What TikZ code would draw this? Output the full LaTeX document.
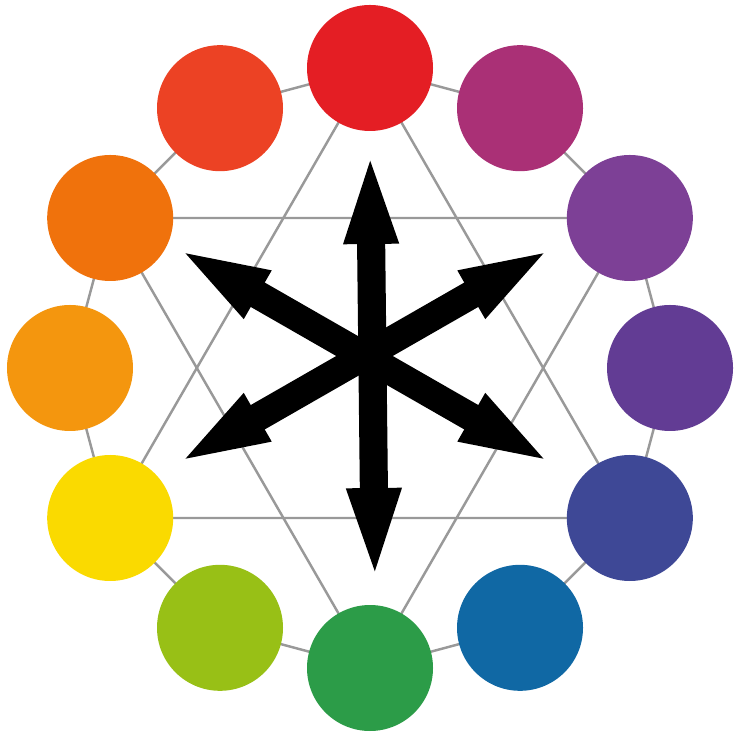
\documentclass[tikz,border=0pt]{standalone}
\usetikzlibrary{arrows.meta, backgrounds}

\definecolor{wheelRed}{RGB}{228,30,36}
\definecolor{wheelMagenta}{RGB}{170,48,118}
\definecolor{wheelPurple}{RGB}{125,64,150}
\definecolor{wheelDeepPurple}{RGB}{98,60,148}
\definecolor{wheelIndigo}{RGB}{62,72,150}
\definecolor{wheelBlue}{RGB}{16,104,164}
\definecolor{wheelGreen}{RGB}{44,156,72}
\definecolor{wheelLime}{RGB}{152,192,22}
\definecolor{wheelYellow}{RGB}{250,218,0}
\definecolor{wheelAmber}{RGB}{244,150,14}
\definecolor{wheelOrange}{RGB}{240,114,12}
\definecolor{wheelVermilion}{RGB}{236,66,36}

\tikzset{
  colordot/.style={circle, draw=none, inner sep=0pt, minimum size=1.26cm},
  guide/.style={draw=gray!80, line width=0.7pt},
  bigarrow/.style={line width=8pt, {Triangle[length=1.0cm, width=0.46cm]}-{Triangle[length=1.0cm, width=0.46cm]}}
}

\begin{document}
\begin{tikzpicture}
\def\wheelr{3.0}
\useasboundingbox (-3.70,-3.78) rectangle (3.65,3.68);

% the twelve colours, clockwise from the top
\foreach \col [count=\i from 0] in {wheelRed, wheelMagenta, wheelPurple, wheelDeepPurple,
    wheelIndigo, wheelBlue, wheelGreen, wheelLime, wheelYellow, wheelAmber,
    wheelOrange, wheelVermilion}
  \node[colordot, fill=\col] (c\i) at ({90-30*\i}:\wheelr) {};

\begin{scope}[on background layer]
  \foreach \i in {0,...,11} {
    \pgfmathtruncatemacro\j{mod(\i+1,12)}
    \draw[guide] (c\i.center) -- (c\j.center);
  }
  \draw[guide] (c0.center) -- (c4.center) -- (c8.center) -- cycle;
  \draw[guide] (c2.center) -- (c6.center) -- (c10.center) -- cycle;
\end{scope}

% arrows
\coordinate (up) at (0,2.24);
\coordinate (down) at (0.05,-2.2);
\coordinate (ul) at (-1.99,1.23);
\coordinate (dr) at (1.88,-0.99);
\coordinate (ur) at (1.88,1.23);
\coordinate (dl) at (-1.99,-0.99);

\draw[bigarrow] (down) -- (up);
\draw[bigarrow] (dr) -- (ul);
\draw[bigarrow] (dl) -- (ur);
\end{tikzpicture}
\end{document}
